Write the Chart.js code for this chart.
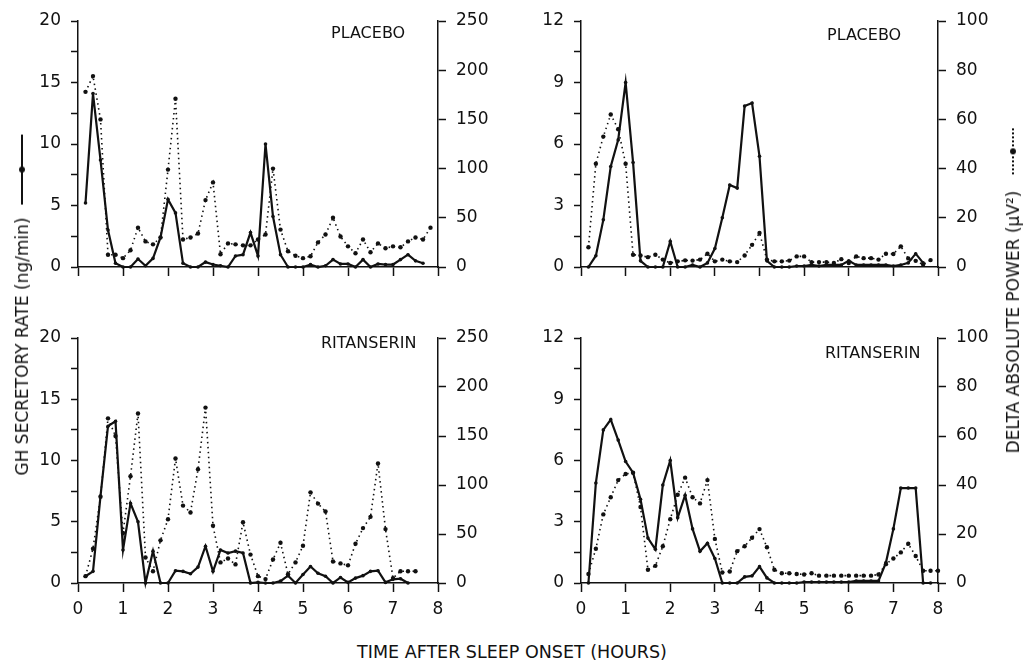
<!DOCTYPE html>
<html>
<head>
<meta charset="utf-8">
<script src="https://cdn.jsdelivr.net/npm/chart.js@4.4.1/dist/chart.umd.min.js"></script>
<style>
  body { margin: 0; background: #fff; }
  #page { position: relative; width: 1035px; height: 665px; overflow: hidden; font-family: "DejaVu Sans", sans-serif; color: #111; }
  canvas { position: absolute; }
  .tag { position: absolute; font-size: 16px; line-height: 1; white-space: nowrap; transform: translateY(-50%); }
  .vtitle { position: absolute; font-size: 17px; white-space: nowrap; display: flex; align-items: center;
            transform: translate(-50%, -50%) rotate(-90deg); }
  .key { display: inline-block; position: relative; height: 0; }
  .key.solid { width: 70px; border-top: 2px solid #111; margin-left: 13px; }
  .key.dots { width: 46px; border-top: 2px dotted #111; margin-left: 16px; }
  .key i { position: absolute; left: 50%; top: -4px; width: 6px; height: 6px; margin-left: -3px; border-radius: 50%; background: #111; }
  #xTitle { position: absolute; left: 512px; top: 652px; transform: translate(-50%, -50%); font-size: 17.5px; white-space: nowrap; }
</style>
</head>
<body>
<div id="page">
  <canvas id="placeboA" width="500" height="300" style="left:0;top:0"></canvas>
  <canvas id="placeboB" width="535" height="300" style="left:500px;top:0"></canvas>
  <canvas id="ritanA" width="500" height="340" style="left:0;top:300px"></canvas>
  <canvas id="ritanB" width="535" height="340" style="left:500px;top:300px"></canvas>

  <div class="tag" style="left:331px;top:33px">PLACEBO</div>
  <div class="tag" style="left:827px;top:35px">PLACEBO</div>
  <div class="tag" style="left:321px;top:343px">RITANSERIN</div>
  <div class="tag" style="left:825px;top:353px">RITANSERIN</div>

  <div class="vtitle" style="left:22px;top:305px"><span>GH SECRETORY RATE (ng/min)</span><span class="key solid"><i></i></span></div>
  <div class="vtitle" style="left:1013px;top:291px"><span>DELTA ABSOLUTE POWER (µV²)</span><span class="key dots"><i></i></span></div>
  <div id="xTitle">TIME AFTER SLEEP ONSET (HOURS)</div>
</div>

<script>
// sampling times, minutes after sleep onset
const sampleMinutes = [10, 20, 30, 40, 50, 60, 70, 80, 90, 100, 110, 120, 130, 140, 150, 160,
  170, 180, 190, 200, 210, 220, 230, 240, 250, 260, 270, 280, 290, 300, 310, 320,
  330, 340, 350, 360, 370, 380, 390, 400, 410, 420, 430, 440, 450, 460, 470, 480];

const hourTicks = [0, 1, 2, 3, 4, 5, 6, 7, 8];

// subject A (left column): GH 0-20 ng/min, delta 0-250 uV2
const placeboGhA = [5.2, 14.1, 8.7, 3.0, 0.3, 0, 0, 0.65, 0.1, 0.7, 2.4, 5.5, 4.4, 0.3, 0, 0,
  0.4, 0.2, 0.1, 0, 0.9, 1.0, 2.8, 0.9, 10.0, 4.1, 1.0, 0, 0, 0, 0.2, 0,
  0.1, 0.6, 0.25, 0.25, 0, 0.6, 0, 0.25, 0.2, 0.2, 0.6, 1.0, 0.5, 0.3];
const placeboDeltaA = [178, 194, 150, 12.5, 12.5, 9, 17, 40, 26, 23, 30, 99, 171, 28, 30, 34,
  68, 86, 13, 24, 23, 22, 22, 28, 33, 100, 38, 16, 11.5, 9, 11, 25,
  33, 50, 31, 21, 14, 28, 15, 24, 19, 21, 20, 26, 30, 28, 40];
const ritanGhA = [0.55, 0.95, 7.1, 12.8, 13.2, 2.7, 6.5, 5.0, 0, 2.6, 0, 0, 1.0, 0.95, 0.75, 1.3,
  3.0, 0.95, 2.7, 2.45, 2.6, 2.45, 0, 0.05, 0, 0, 0.15, 0.6, 0, 0.7, 1.35, 0.8,
  0.55, 0, 0.45, 0.05, 0.4, 0.6, 0.95, 1.0, 0.05, 0.3, 0.35, 0];
const ritanDeltaA = [7, 35, 88, 168, 150, 51, 109, 173, 26, 12, 43.5, 65, 127, 79, 72, 116,
  179, 58.5, 21, 25, 19, 62, 29, 7, 4, 24, 41, 9, 21, 38, 92.5, 81,
  73, 22, 20, 18, 40, 56, 67.5, 122, 55, 5, 12, 12, 12];

// subject B (right column): GH 0-12 ng/min, delta 0-100 uV2
const placeboGhB = [0, 0.55, 2.3, 4.9, 6.2, 9.0, 5.1, 0.3, 0, 0, 0, 1.25, 0, 0, 0.1, 0,
  0.2, 0.9, 2.4, 4.0, 3.85, 7.85, 8.0, 5.4, 0.3, 0, 0, 0, 0.05, 0.05, 0.1, 0.05,
  0.1, 0.1, 0.1, 0.3, 0.1, 0.1, 0.1, 0.1, 0.1, 0.05, 0.1, 0.2, 0.65, 0.2];
const placeboDeltaB = [8, 42, 53, 62, 56, 42, 5, 4.7, 4, 5, 3, 1.6, 2.3, 2.7, 2.6, 3,
  5.4, 2.3, 3, 2.3, 2, 4.7, 9, 13.8, 3, 2.3, 2.3, 2.6, 4.3, 4.3, 2, 2,
  2, 1.6, 3.2, 1.6, 4.3, 3.6, 3.6, 3, 5.4, 5.3, 8.4, 3.5, 2.5, 1, 2.8];
const ritanGhB = [0, 4.9, 7.5, 8.0, 7.0, 5.95, 5.4, 4.1, 2.2, 1.65, 4.8, 6.0, 3.2, 4.3, 2.65, 1.55,
  1.95, 1.2, 0, 0, 0, 0.3, 0.35, 0.8, 0.25, 0, 0, 0, 0, 0.05, 0.05, 0.05,
  0.05, 0.05, 0.05, 0.05, 0.1, 0.1, 0.1, 0.1, 1.0, 2.65, 4.65, 4.65, 4.65, 0, 0];
const ritanDeltaB = [3.7, 14, 28, 35, 42, 44.5, 45, 31, 5.4, 7, 15, 26, 36, 43, 35, 32.5,
  42, 18, 4.3, 4.7, 13, 15, 18.5, 22, 14.6, 5.4, 4, 4, 3.7, 3.5, 4, 3,
  3, 3, 3, 3, 3, 3, 3, 3.5, 7.7, 10, 12.5, 16, 11, 5, 5, 5];

const INK = '#111';
const tickFont = { family: '"DejaVu Sans", sans-serif', size: 17 };

function toPoints(values) {
  return values.map((v, i) => ({ x: sampleMinutes[i] / 60, y: v }));
}

function drawPanel(id, p) {
  return new Chart(document.getElementById(id), {
    type: 'line',
    data: {
      datasets: [
        {
          data: toPoints(p.gh), yAxisID: 'y',
          borderColor: INK, borderWidth: 2.2, tension: 0,
          pointRadius: 1.8, pointBackgroundColor: INK, pointBorderWidth: 0, clip: false
        },
        {
          data: toPoints(p.delta), yAxisID: 'y1',
          borderColor: INK, borderWidth: 1.6, borderDash: [1.5, 3.5], tension: 0,
          pointRadius: 2.2, pointBackgroundColor: INK, pointBorderWidth: 0, clip: false
        }
      ]
    },
    options: {
      responsive: false,
      animation: false,
      events: [],
      layout: { padding: { top: p.top, left: 0, right: 0, bottom: 0 } },
      plugins: { legend: { display: false }, tooltip: { enabled: false } },
      scales: {
        x: {
          type: 'linear', min: hourTicks[0], max: hourTicks[hourTicks.length - 1],
          afterBuildTicks: s => { s.ticks = hourTicks.map(v => ({ value: v })); },
          ticks: { display: p.xLabels, color: INK, padding: 7, maxRotation: 0, font: tickFont },
          grid: { drawOnChartArea: false, tickLength: 9, tickColor: INK, tickWidth: 1.5 },
          border: { color: INK, width: 1.5 },
          afterFit: s => { s.height = p.xHeight; }
        },
        y: {
          position: 'left', min: 0, max: p.ghMax,
          ticks: { stepSize: p.ghStep / 2, autoSkip: false, color: INK, padding: 10, font: tickFont,
                   callback: v => (v % p.ghStep === 0 ? v : '') },
          grid: { drawOnChartArea: false, tickLength: 7, tickColor: INK, tickWidth: 1.5 },
          border: { color: INK, width: 1.5 },
          afterFit: s => { s.width = p.leftWidth; }
        },
        y1: {
          position: 'right', min: 0, max: p.deltaMax,
          ticks: { stepSize: p.deltaStep, autoSkip: false, color: INK, padding: 10, font: tickFont },
          grid: { drawOnChartArea: false, tickLength: 8, tickColor: INK, tickWidth: 1.5 },
          border: { color: INK, width: 1.5 },
          afterFit: s => { s.width = p.rightWidth; }
        }
      }
    }
  });
}

drawPanel('placeboA', { gh: placeboGhA, delta: placeboDeltaA, ghMax: 20, ghStep: 5, deltaMax: 250, deltaStep: 50,
  top: 21, xHeight: 33, xLabels: false, leftWidth: 78, rightWidth: 62 });
drawPanel('placeboB', { gh: placeboGhB, delta: placeboDeltaB, ghMax: 12, ghStep: 3, deltaMax: 100, deltaStep: 20,
  top: 21, xHeight: 33, xLabels: false, leftWidth: 81, rightWidth: 97 });
drawPanel('ritanA', { gh: ritanGhA, delta: ritanDeltaA, ghMax: 20, ghStep: 5, deltaMax: 250, deltaStep: 50,
  top: 38, xHeight: 57, xLabels: true, leftWidth: 78, rightWidth: 62 });
drawPanel('ritanB', { gh: ritanGhB, delta: ritanDeltaB, ghMax: 12, ghStep: 3, deltaMax: 100, deltaStep: 20,
  top: 38, xHeight: 57, xLabels: true, leftWidth: 81, rightWidth: 97 });
</script>
</body>
</html>
